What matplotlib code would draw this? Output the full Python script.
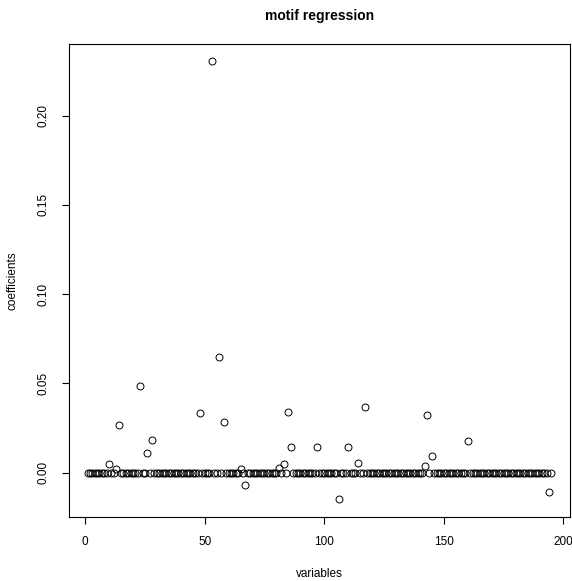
import numpy as np
import matplotlib
matplotlib.use("Agg")
import matplotlib.pyplot as plt

plt.rcParams['font.family'] = ['Liberation Sans', 'DejaVu Sans']

# 195 coefficients, mostly zero; the nonzero ones
n_vars = 195
nonzero_idx = [10, 13, 14, 23, 26, 28, 48, 53, 56, 58, 65, 67,
               81, 83, 85, 86, 97, 106, 110, 114, 117, 142, 143, 145, 160, 194]
nonzero_val = [0.0050, 0.0017, 0.0267, 0.0487, 0.0110, 0.0181, 0.0334, 0.2303,
               0.0648, 0.0282, 0.0021, -0.0069,
               0.0026, 0.0050, 0.0338, 0.0142, 0.0144, -0.0151, 0.0144, 0.0054,
               0.0368, 0.0035, 0.0323, 0.0090, 0.0178, -0.0112]

variables = np.arange(1, n_vars + 1)
coefficients = np.zeros(n_vars)
for i, v in zip(nonzero_idx, nonzero_val):
    coefficients[i - 1] = v

fig = plt.figure(figsize=(5.72, 5.81), dpi=100)
ax = fig.add_axes([0.1206, 0.1102, 0.8759, 0.8141])

ax.plot(variables, coefficients, 'o', mfc='none', mec='black', ms=5, mew=0.7)

# R-style 4% padding around the data range
xr = variables.max() - variables.min()
yr = coefficients.max() - coefficients.min()
ax.set_xlim(variables.min() - 0.04 * xr, variables.max() + 0.04 * xr)
ax.set_ylim(coefficients.min() - 0.04 * yr, coefficients.max() + 0.04 * yr)

ax.set_xticks([0, 50, 100, 150, 200])
ax.set_xticklabels(['0', '50', '100', '150', '200'])
ax.set_yticks([0.00, 0.05, 0.10, 0.15, 0.20])
ax.set_yticklabels(['0.00', '0.05', '0.10', '0.15', '0.20'], rotation=90, va='center')
ax.tick_params(direction='out', length=5, width=0.8, labelsize=8.5, pad=9)

for s in ax.spines.values():
    s.set_linewidth(0.8)

ax.set_xlabel('variables', fontsize=8.5, labelpad=14)
ax.set_ylabel('coefficients', fontsize=8.5, labelpad=14)
ax.set_title('motif regression', fontsize=10, fontweight='bold', pad=17)

fig.savefig('out.png', dpi=100)
